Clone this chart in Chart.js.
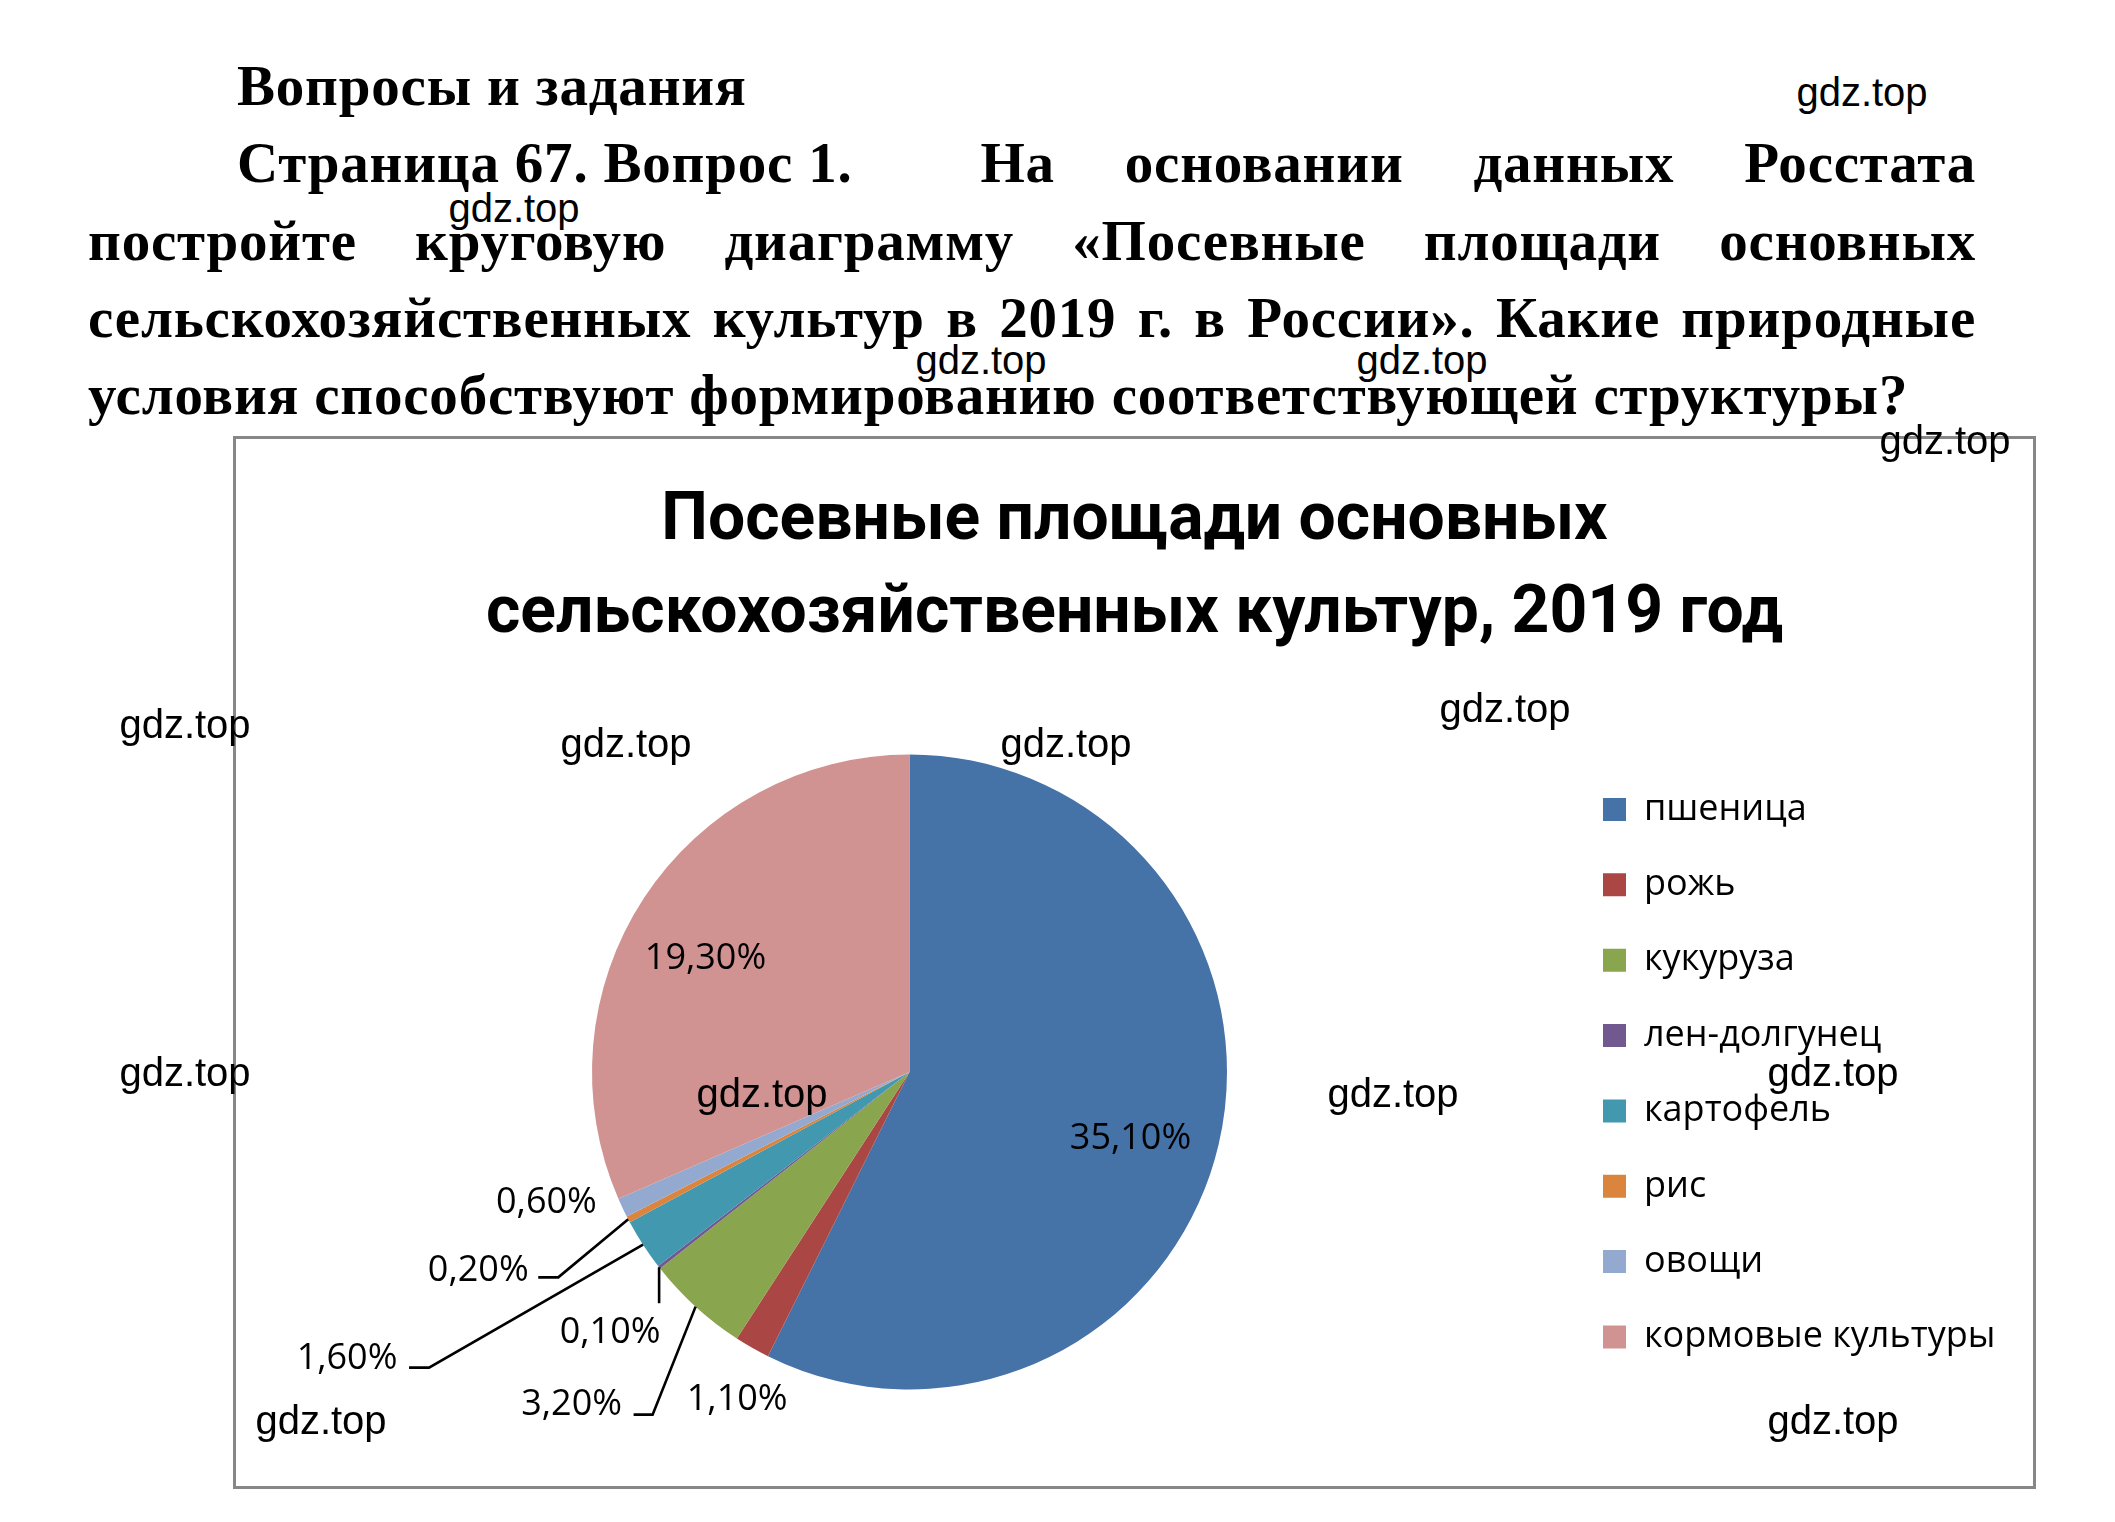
<!DOCTYPE html>
<html lang="ru">
<head>
<meta charset="utf-8">
<title>Посевные площади основных сельскохозяйственных культур, 2019 год</title>
<style>
  html, body { margin: 0; padding: 0; background: #fff; }
  body { width: 2115px; height: 1522px; position: relative; overflow: hidden; }
  .task {
    position: absolute; left: 88px; top: 47px; width: 1888px;
    font-family: "Liberation Serif", "Times New Roman", serif;
    font-weight: bold; font-size: 57px; letter-spacing: 0.8px; line-height: 77.3px; color: #000;
  }
  .task .line { display: flex; justify-content: space-between; white-space: nowrap; }
  .task .indent { padding-left: 149px; }
  .task .plain { white-space: nowrap; }
  .frame {
    position: absolute; left: 233px; top: 436px; width: 1803px; height: 1053px;
    box-sizing: border-box; border: 3px solid #878787; background: #fff;
  }
  #chart { position: absolute; left: 0; top: 0; }
  .mark {
    position: absolute; transform: translate(-50%, -50%);
    font-family: "Liberation Sans", Arial, sans-serif; font-size: 40px;
    color: #000; white-space: nowrap;
  }
</style>
</head>
<body>
  <div class="task">
    <div class="line indent" style="justify-content:flex-start">Вопросы и задания</div>
    <div class="line indent">
      <span style="margin-right:58px">Страница 67. Вопрос 1.</span><span>На</span><span>основании</span><span>данных</span><span>Росстата</span>
    </div>
    <div class="line">
      <span>постройте</span><span>круговую</span><span>диаграмму</span><span>«Посевные</span><span>площади</span><span>основных</span>
    </div>
    <div class="line">
      <span>сельскохозяйственных</span><span>культур</span><span>в</span><span>2019</span><span>г.</span><span>в</span><span>России».</span><span>Какие</span><span>природные</span>
    </div>
    <div class="plain">условия способствуют формированию соответствующей структуры?</div>
  </div>

  <div class="frame">
    <canvas id="chart" width="1797" height="1047"></canvas>
  </div>

  <!-- водяные знаки -->
  <div class="mark" style="left:1862px;top:92px">gdz.top</div>
  <div class="mark" style="left:514px;top:208px">gdz.top</div>
  <div class="mark" style="left:981px;top:360px">gdz.top</div>
  <div class="mark" style="left:1422px;top:360px">gdz.top</div>
  <div class="mark" style="left:1945px;top:440px">gdz.top</div>
  <div class="mark" style="left:185px;top:724px">gdz.top</div>
  <div class="mark" style="left:626px;top:743px">gdz.top</div>
  <div class="mark" style="left:1066px;top:743px">gdz.top</div>
  <div class="mark" style="left:1505px;top:708px">gdz.top</div>
  <div class="mark" style="left:185px;top:1072px">gdz.top</div>
  <div class="mark" style="left:762px;top:1093px">gdz.top</div>
  <div class="mark" style="left:1393px;top:1093px">gdz.top</div>
  <div class="mark" style="left:1833px;top:1072px">gdz.top</div>
  <div class="mark" style="left:321px;top:1420px">gdz.top</div>
  <div class="mark" style="left:1833px;top:1420px">gdz.top</div>

  <script src="https://cdn.jsdelivr.net/npm/chart.js"></script>
  <script>
    // Данные диаграммы
    const titleLines = ['Посевные площади основных', 'сельскохозяйственных культур, 2019 год'];
    const categories = ['пшеница', 'рожь', 'кукуруза', 'лен-долгунец', 'картофель', 'рис', 'овощи', 'кормовые культуры'];
    const shares = [35.1, 1.1, 3.2, 0.1, 1.6, 0.2, 0.6, 19.3];
    const sliceColors = ['#4572A7', '#AA4643', '#89A54E', '#71588F', '#4198AF', '#DB843D', '#93A9CF', '#D09392'];

    // Геометрия внутри холста
    const PIE_CX = 673.5, PIE_CY = 633, PIE_R = 317.5;
    const LEGEND_X = 1603, LEGEND_Y = 352.5;

    // Размещение подписей: center - смещение от центра круга,
    // иначе смещение от точки на краю сектора, leader - изломы выноски
    const labelPlacement = [
      { center: [221, 67] },
      { dx: -15, dy: 52 },
      { dx: -124, dy: 98, leader: [[-43, 108], [-62, 108]] },
      { dx: -49, dy: 66, leader: [[0, 36]] },
      { dx: -296, dy: 114, leader: [[-214, 123], [-234, 123]] },
      { dx: -150, dy: 51, leader: [[-70, 58], [-90, 58]] },
      { dx: -76, dy: -5 },
      { center: [-204, -113] }
    ];

    const fmt = v => v.toFixed(2).replace('.', ',') + '%';

    // Ставим круг и легенду туда, где они на образце
    const placement = {
      id: 'placement',
      afterLayout(chart) {
        const a = chart.chartArea;
        a.left = PIE_CX - PIE_R; a.right = PIE_CX + PIE_R;
        a.top = PIE_CY - PIE_R; a.bottom = PIE_CY + PIE_R;
        a.width = 2 * PIE_R; a.height = 2 * PIE_R;
        const lg = chart.legend;
        const pad = lg.options.labels.padding;
        const w = lg.width;
        lg.left = LEGEND_X - 236 - pad; lg.right = lg.left + w;
        lg.top = LEGEND_Y - pad; lg.bottom = chart.height;
        lg.height = lg.bottom - lg.top;
      }
    };

    // Подписи значений с выносками
    const sliceLabels = {
      id: 'sliceLabels',
      afterDatasetsDraw(chart) {
        const ctx = chart.ctx;
        const meta = chart.getDatasetMeta(0);
        ctx.save();
        ctx.font = '36px "Open Sans", "DejaVu Sans", sans-serif';
        ctx.fillStyle = '#000';
        ctx.strokeStyle = '#000';
        ctx.lineWidth = 2.6;
        ctx.textAlign = 'center';
        ctx.textBaseline = 'middle';
        meta.data.forEach((arc, i) => {
          const p = arc.getProps(['x', 'y', 'startAngle', 'endAngle', 'outerRadius'], true);
          const mid = (p.startAngle + p.endAngle) / 2;
          const ex = p.x + Math.cos(mid) * p.outerRadius;
          const ey = p.y + Math.sin(mid) * p.outerRadius;
          const pl = labelPlacement[i];
          let lx, ly;
          if (pl.center) {
            lx = p.x + pl.center[0];
            ly = p.y + pl.center[1];
          } else {
            lx = ex + pl.dx;
            ly = ey + pl.dy;
          }
          if (pl.leader) {
            ctx.beginPath();
            ctx.moveTo(ex, ey);
            pl.leader.forEach(([dx, dy]) => ctx.lineTo(ex + dx, ey + dy));
            ctx.stroke();
          }
          ctx.fillText(fmt(shares[i]), lx, ly);
        });
        ctx.restore();
      }
    };

    new Chart(document.getElementById('chart'), {
      type: 'pie',
      data: {
        labels: categories,
        datasets: [{
          data: shares,
          backgroundColor: sliceColors,
          borderWidth: 0,
          hoverOffset: 0
        }]
      },
      options: {
        responsive: false,
        animation: false,
        events: [],
        plugins: {
          title: {
            display: true,
            text: titleLines,
            color: '#000',
            font: { family: 'Roboto', weight: 'bold', size: 66, lineHeight: 93 / 66 },
            padding: { top: 37, bottom: 0 }
          },
          legend: {
            position: 'right',
            align: 'start',
            labels: {
              color: '#000',
              font: { family: '"Open Sans"', size: 36 },
              boxWidth: 23,
              boxHeight: 23,
              padding: 39.35
            }
          },
          tooltip: { enabled: false }
        }
      },
      plugins: [placement, sliceLabels]
    });
  </script>
</body>
</html>
